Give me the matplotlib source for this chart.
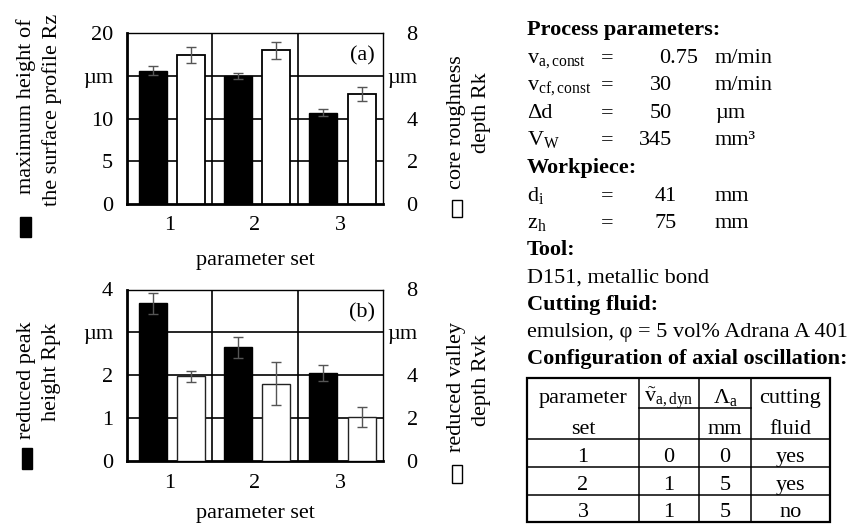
import matplotlib
matplotlib.use('Agg')
import matplotlib.pyplot as plt
from matplotlib.patches import Rectangle
import numpy as np

plt.rcParams['font.family'] = ['Liberation Serif', 'DejaVu Serif']
plt.rcParams['mathtext.fontset'] = 'custom'
plt.rcParams['mathtext.rm'] = 'Liberation Serif'
plt.rcParams['mathtext.it'] = 'Liberation Serif:italic'
plt.rcParams['mathtext.bf'] = 'Liberation Serif:bold'

# ---------------- data ----------------
sets = [1, 2, 3]
set_labels = ['1', '2', '3']

rz = [15.6, 14.95, 10.7]
rz_err = [0.55, 0.35, 0.42]
rk = [6.97, 7.2, 5.15]
rk_err = [0.39, 0.4, 0.31]

rpk = [3.68, 2.65, 2.05]
rpk_err = [0.24, 0.25, 0.18]
rvk = [3.95, 3.6, 2.05]
rvk_err = [0.25, 1.0, 0.45]

top_left_ticks = [0, 5, 10, 15, 20]
top_left_labels = ['0', '5', '10', 'µm', '20']
top_right_ticks = [0, 2, 4, 6, 8]
top_right_labels = ['0', '2', '4', 'µm', '8']
bot_left_ticks = [0, 1, 2, 3, 4]
bot_left_labels = ['0', '1', '2', 'µm', '4']
bot_right_ticks = [0, 2, 4, 6, 8]
bot_right_labels = ['0', '2', '4', 'µm', '8']

params_sym = [r'$\mathrm{v}_{\mathrm{a,const}}$', r'$\mathrm{v}_{\mathrm{cf,const}}$',
              'Δd', r'$\mathrm{V}_{\mathrm{W}}$']
params_val = ['0.75', '30', '50', '345']
params_unit = ['m/min', 'm/min', 'µm', 'mm³']
work_sym = [r'$\mathrm{d}_{\mathrm{i}}$', r'$\mathrm{z}_{\mathrm{h}}$']
work_val = ['41', '75']
work_unit = ['mm', 'mm']

table_header_top = ['parameter', r'$\tilde{\mathrm{v}}_{\mathrm{a,dyn}}$', r'$\Lambda_{\mathrm{a}}$', 'cutting']
table_header_bot = ['set', '', 'mm', 'fluid']
table_rows = [['1', '0', '0', 'yes'],
              ['2', '1', '5', 'yes'],
              ['3', '1', '5', 'no']]

# ---------------- figure ----------------
W, H = 856, 524
fig = plt.figure(figsize=(W / 100, H / 100), dpi=100)
FS = 16


def px_axes(x0, y0, x1, y1):
    return fig.add_axes([x0 / W, 1 - y1 / H, (x1 - x0) / W, (y1 - y0) / H])


ekw = dict(ecolor='#555555', elinewidth=1.0, capsize=3.5, capthick=1.0)


def panel(y0, y1, lv, le, rv, re, lt, ltl, rt, rtl, tag, redge, rlw, lpad):
    ax = px_axes(127, y0, 383, y1)
    ax2 = ax.twinx()
    x = np.array(sets, float)
    ax.bar(x - 0.2, lv, 0.33, yerr=le, color='black', edgecolor='black', lw=1,
           error_kw=ekw, zorder=3)
    ax2.bar(x + 0.25, rv, 0.33, yerr=re, color='white', edgecolor=redge, lw=rlw,
            error_kw=ekw, zorder=3)
    ax.set_xlim(0.5, 3.5)
    ax.set_ylim(lt[0], lt[-1])
    ax2.set_ylim(rt[0], rt[-1])
    for v in lt[1:-1]:
        ax.axhline(v, color='black', lw=1.2, zorder=1)
    for xv in [1.5, 2.5]:
        ax.axvline(xv, color='black', lw=1.2, zorder=1)
    ax.set_xticks(sets)
    ax.set_xticklabels(set_labels)
    ax.set_yticks(lt)
    ax.set_yticklabels(ltl)
    ax2.set_yticks(rt)
    ax2.set_yticklabels(rtl)
    ax.tick_params(axis='both', length=0, labelsize=FS)
    ax.tick_params(axis='x', pad=9)
    ax.tick_params(axis='y', pad=10)
    ax2.tick_params(axis='y', length=0, labelsize=FS, pad=25)
    for lab in ax2.get_yticklabels():
        lab.set_horizontalalignment('right')
    for s in ['left', 'bottom']:
        ax.spines[s].set_linewidth(2.0)
    for s in ['top', 'right']:
        ax.spines[s].set_linewidth(1.0)
    for s in ax2.spines.values():
        s.set_visible(False)
    ax.set_xlabel('parameter set', fontsize=FS, labelpad=lpad)
    ax.text(0.918, 0.866, tag, transform=ax.transAxes, ha='center', va='center', fontsize=FS)
    return ax, ax2


panel(33, 204, rz, rz_err, rk, rk_err, top_left_ticks, top_left_labels,
      top_right_ticks, top_right_labels, '(a)', 'black', 1.3, 11)
panel(289.5, 461, rpk, rpk_err, rvk, rvk_err, bot_left_ticks, bot_left_labels,
      bot_right_ticks, bot_right_labels, '(b)', '#222222', 1.0, 8)

# overlay in pixel coordinates
ov = fig.add_axes([0, 0, 1, 1])
ov.set_xlim(0, W)
ov.set_ylim(H, 0)
ov.axis('off')


def rtext(x, y, s):
    ov.text(x, y, s, rotation=90, rotation_mode='anchor', ha='center', va='center', fontsize=FS)


# left / right axis titles
rtext(26, 106, 'maximum height of')
rtext(52, 110, 'the surface profile Rz')
ov.add_patch(Rectangle((20, 217), 11, 20, facecolor='black', edgecolor='black'))
rtext(457, 122, 'core roughness')
rtext(482, 113, 'depth Rk')
ov.add_patch(Rectangle((452, 200), 10, 17, facecolor='white', edgecolor='black', lw=1))

rtext(27, 380, 'reduced peak')
rtext(52, 372, 'height Rpk')
ov.add_patch(Rectangle((22, 448), 10, 21, facecolor='black', edgecolor='black'))
rtext(457, 387, 'reduced valley')
rtext(482, 380, 'depth Rvk')
ov.add_patch(Rectangle((452, 465), 10, 18, facecolor='white', edgecolor='black', lw=1))

# process parameter text
X0 = 527
ov.text(X0, 35, 'Process parameters:', fontsize=FS, fontweight='bold', va='baseline')
base = [63, 90, 118, 145]
val_x = [698, 672, 672, 672]
for y, s, v, u, vx in zip(base, params_sym, params_val, params_unit, val_x):
    ov.text(X0, y, s, fontsize=FS, va='baseline')
    ov.text(607, y, '=', fontsize=FS, va='baseline', ha='center')
    ov.text(vx, y, v, fontsize=FS, va='baseline', ha='right')
    ov.text(715, y, u, fontsize=FS, va='baseline')
ov.text(X0, 173, 'Workpiece:', fontsize=FS, fontweight='bold', va='baseline')
for y, s, v, u in zip([201, 228], work_sym, work_val, work_unit):
    ov.text(X0, y, s, fontsize=FS, va='baseline')
    ov.text(607, y, '=', fontsize=FS, va='baseline', ha='center')
    ov.text(677, y, v, fontsize=FS, va='baseline', ha='right')
    ov.text(715, y, u, fontsize=FS, va='baseline')
ov.text(X0, 255, 'Tool:', fontsize=FS, fontweight='bold', va='baseline')
ov.text(X0, 283, 'D151, metallic bond', fontsize=FS, va='baseline')
ov.text(X0, 310, 'Cutting fluid:', fontsize=FS, fontweight='bold', va='baseline')
ov.text(X0, 337, 'emulsion, φ = 5 vol% Adrana A 401', fontsize=FS, va='baseline')
ov.text(X0, 364, 'Configuration of axial oscillation:', fontsize=FS, fontweight='bold', va='baseline')

# table
col_x = [527, 639, 699, 751, 830]
row_y = [378, 408, 439, 467, 495, 522]
tl = 1.1
ov.add_patch(Rectangle((col_x[0], row_y[0]), col_x[-1] - col_x[0], row_y[-1] - row_y[0],
                       facecolor='none', edgecolor='black', lw=1.6))
for cx in col_x[1:-1]:
    ov.plot([cx, cx], [row_y[0], row_y[-1]], color='black', lw=tl)
for ry in row_y[2:-1]:
    ov.plot([col_x[0], col_x[-1]], [ry, ry], color='black', lw=tl)
ov.plot([col_x[1], col_x[3]], [row_y[1], row_y[1]], color='black', lw=tl)
centers = [(col_x[i] + col_x[i + 1]) / 2 for i in range(4)]
for c, s in zip(centers, table_header_top):
    ov.text(c, row_y[1] - 5, s, fontsize=FS, ha='center', va='baseline')
for c, s in zip(centers, table_header_bot):
    if s:
        ov.text(c, row_y[2] - 5, s, fontsize=FS, ha='center', va='baseline')
for r, row in enumerate(table_rows):
    for c, s in zip(centers, row):
        ov.text(c, row_y[3 + r] - 5, s, fontsize=FS, ha='center', va='baseline')

fig.savefig('out.png', dpi=100)
